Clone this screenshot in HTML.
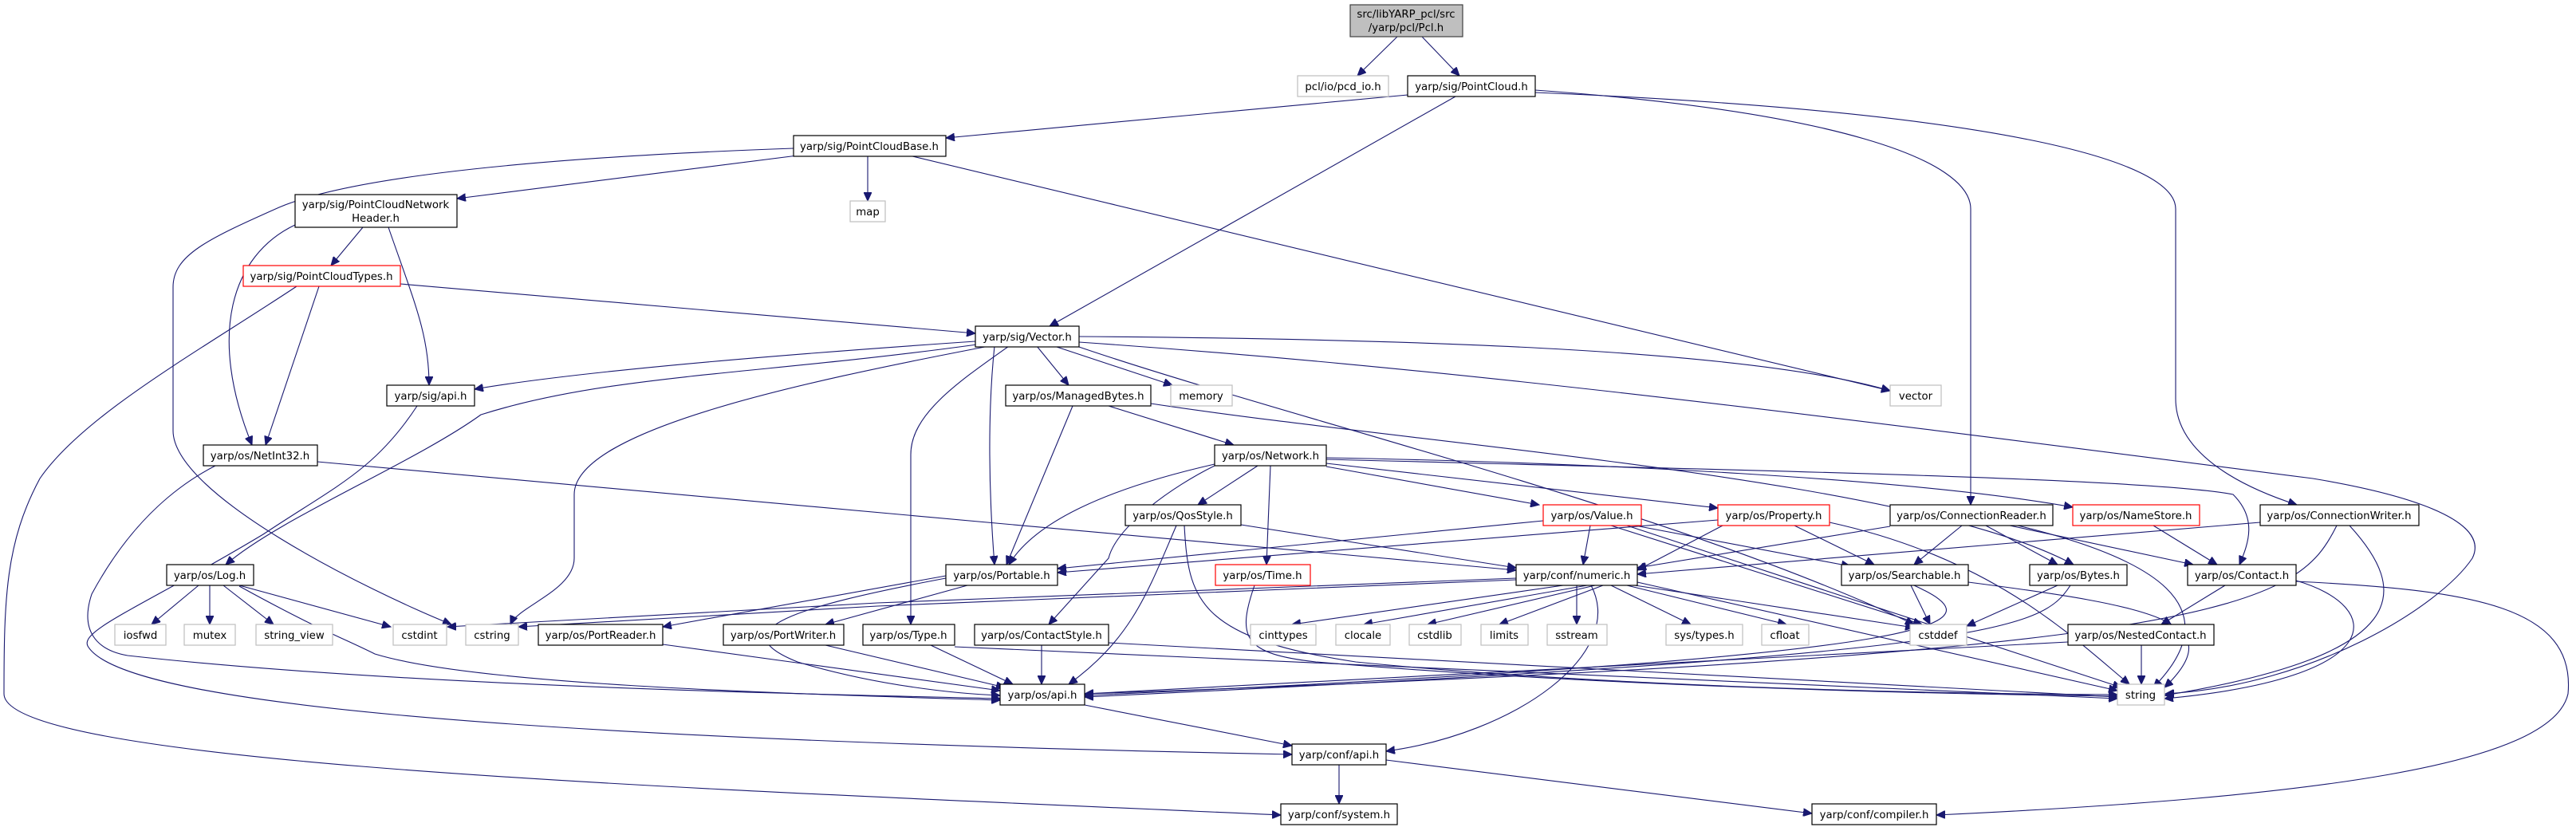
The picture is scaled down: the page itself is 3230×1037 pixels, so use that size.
<!DOCTYPE html>
<html><head><meta charset="utf-8"><style>
html,body{margin:0;padding:0;background:#fff;}
svg{display:block;}
text{font-family:"DejaVu Sans","Liberation Sans",sans-serif;font-size:13.3px;fill:#000;text-anchor:middle;}
.e{fill:none;stroke:#191970;stroke-width:1.1;marker-end:url(#a);}
.n{fill:#fff;stroke:#000;stroke-width:1.2;}
.g{fill:#fff;stroke:#bfbfbf;stroke-width:1.2;}
.r{fill:#fff;stroke:#ff0000;stroke-width:1.2;}
</style></head><body>
<svg width="3230" height="1037" viewBox="0 0 3230 1037" xmlns="http://www.w3.org/2000/svg">
<defs><marker id="a" markerWidth="12" markerHeight="10" refX="11" refY="5" orient="auto" markerUnits="userSpaceOnUse"><path d="M0,0 L11,5 L0,10 z" fill="#191970" stroke="#191970"/></marker></defs>
<g>
<path class="e" d="M1752,46 L1702,95"/>
<path class="e" d="M1783,46 L1830,95"/>
<path class="e" d="M1765,119 L1186,173"/>
<path class="e" d="M1825,121 L1316,409"/>
<path class="e" d="M1925,113 C2300,140 2471,200 2471,262 L2471,633"/>
<path class="e" d="M1925,116 C2500,140 2728,200 2728,262 L2728,500 C2728,580 2840,620 2880,633"/>
<path class="e" d="M1000,195 L573,249"/>
<path class="e" d="M1088,195 L1088,252"/>
<path class="e" d="M1140,195 L2370,490"/>
<path class="e" d="M995,186 C600,200 420,230 350,260 C260,300 217,320 217,360 L217,540 C217,620 460,740 566,783"/>
<path class="e" d="M455,285 L415,333"/>
<path class="e" d="M487,285 C520,380 538,420 538,483"/>
<path class="e" d="M370,282 C290,320 260,420 316,558"/>
<path class="e" d="M502,356 L1223,418"/>
<path class="e" d="M400,359 L333,558"/>
<path class="e" d="M372,359 C250,440 105,520 50,600 C7,680 5,750 5,870 C5,960 900,990 1606,1022"/>
<path class="e" d="M523,509 C470,590 420,610 330,670 C180,760 100,790 110,810 C150,880 600,925 1620,946"/>
<path class="e" d="M270,584 C200,620 150,680 115,745 C100,790 120,815 160,822 C500,860 1000,870 1254,876"/>
<path class="e" d="M398,579 L1901,715"/>
<path class="e" d="M1223,428 C900,450 700,470 595,488"/>
<path class="e" d="M1225,432 C950,470 760,470 603,520 C520,580 350,650 283,708"/>
<path class="e" d="M1240,434 C1000,480 720,540 720,620 L720,700 C720,740 650,760 640,783"/>
<path class="e" d="M1247,434 C1238,520 1240,620 1247,708"/>
<path class="e" d="M1265,434 C1200,480 1142,520 1142,570 L1142,783"/>
<path class="e" d="M1300,434 L1340,483"/>
<path class="e" d="M1322,434 L1470,483"/>
<path class="e" d="M1353,422 C1800,425 2200,440 2370,490"/>
<path class="e" d="M1353,429 C1800,460 2200,510 2900,600 C3050,625 3120,660 3100,700 C3060,760 2900,860 2715,870"/>
<path class="e" d="M1350,434 C1600,520 2100,640 2400,783"/>
<path class="e" d="M1345,509 L1262,708"/>
<path class="e" d="M1390,509 L1547,558"/>
<path class="e" d="M1443,506 C1800,560 2400,600 2600,708"/>
<path class="e" d="M1577,584 L1502,633"/>
<path class="e" d="M1593,584 L1588,708"/>
<path class="e" d="M1523,582 C1400,610 1300,650 1265,708"/>
<path class="e" d="M1523,584 C1470,610 1400,660 1390,700 L1315,783"/>
<path class="e" d="M1663,585 L1930,633"/>
<path class="e" d="M1663,581 L2154,637"/>
<path class="e" d="M1663,574 C2000,580 2400,600 2599,636"/>
<path class="e" d="M1663,576 C2200,590 2700,600 2800,620 C2830,650 2820,680 2808,708"/>
<path class="e" d="M1475,659 C1440,740 1420,800 1340,858"/>
<path class="e" d="M1556,658 L1901,712"/>
<path class="e" d="M1485,659 C1490,750 1500,800 1700,830 C2000,860 2400,870 2655,871"/>
<path class="e" d="M1573,734 C1550,800 1560,820 1650,830 C2000,860 2400,870 2655,873"/>
<path class="e" d="M1994,659 L1985,708"/>
<path class="e" d="M1935,653 L1326,713"/>
<path class="e" d="M2050,659 L2320,710"/>
<path class="e" d="M2020,659 L2410,783"/>
<path class="e" d="M2040,659 L2660,862"/>
<path class="e" d="M2154,652 L1326,718"/>
<path class="e" d="M2160,659 L2053,715"/>
<path class="e" d="M2250,659 L2350,708"/>
<path class="e" d="M2294,655 C2500,700 2600,800 2670,858"/>
<path class="e" d="M2370,660 L2053,712"/>
<path class="e" d="M2460,659 L2400,708"/>
<path class="e" d="M2490,659 L2580,708"/>
<path class="e" d="M2520,659 L2750,708"/>
<path class="e" d="M2530,659 C2700,700 2800,760 2700,862"/>
<path class="e" d="M2700,659 L2780,708"/>
<path class="e" d="M2930,659 C2880,760 2800,820 1360,870"/>
<path class="e" d="M2946,659 C3020,740 3030,820 2714,872"/>
<path class="e" d="M2834,655 L2053,720"/>
<path class="e" d="M2790,734 L2710,783"/>
<path class="e" d="M2879,728 C2990,760 3000,850 2714,876"/>
<path class="e" d="M2879,729 C3100,740 3230,760 3220,870 C3200,960 2900,1000 2428,1022"/>
<path class="e" d="M2685,809 L2685,858"/>
<path class="e" d="M2593,805 L1360,870"/>
<path class="e" d="M2396,734 L2420,783"/>
<path class="e" d="M2468,730 C2700,760 2800,780 2714,862"/>
<path class="e" d="M2400,734 C2500,780 2500,820 1360,872"/>
<path class="e" d="M2580,734 L2466,785"/>
<path class="e" d="M2596,734 C2560,790 2500,820 1360,874"/>
<path class="e" d="M1960,734 L1620,783"/>
<path class="e" d="M1990,734 L1710,783"/>
<path class="e" d="M2000,734 L1790,783"/>
<path class="e" d="M2010,734 L1880,783"/>
<path class="e" d="M1977,734 L1977,783"/>
<path class="e" d="M2020,734 L2120,783"/>
<path class="e" d="M2040,734 L2240,783"/>
<path class="e" d="M2050,734 L2400,787"/>
<path class="e" d="M2053,730 L2655,866"/>
<path class="e" d="M1995,734 C2040,820 1900,920 1738,942"/>
<path class="e" d="M1901,725 L1100,756 L561,786"/>
<path class="e" d="M1901,727 L1100,760 L650,786"/>
<path class="e" d="M1186,722 L831,786"/>
<path class="e" d="M1213,734 L1035,783"/>
<path class="e" d="M1186,725 C1000,760 900,790 1000,830 C1100,860 1200,870 1254,872"/>
<path class="e" d="M249,734 L190,783"/>
<path class="e" d="M263,734 L263,783"/>
<path class="e" d="M280,734 L343,783"/>
<path class="e" d="M300,734 L490,786"/>
<path class="e" d="M300,735 C400,790 430,800 470,820 C600,860 1000,870 1254,878"/>
<path class="e" d="M831,808 L1254,866"/>
<path class="e" d="M1035,809 L1260,862"/>
<path class="e" d="M1167,809 L1270,858"/>
<path class="e" d="M1197,811 L2655,876"/>
<path class="e" d="M1306,809 L1306,858"/>
<path class="e" d="M1390,806 L2655,874"/>
<path class="e" d="M1360,884 L1620,935"/>
<path class="e" d="M1679,959 L1679,1008"/>
<path class="e" d="M1738,953 L2272,1020"/>
</g>
<g>
<rect x="1693" y="6" width="141" height="40" fill="#bfbfbf" stroke="#404040" stroke-width="1.2"/>
<text x="1763" y="22">src/libYARP_pcl/src</text><text x="1763" y="39">/yarp/pcl/Pcl.h</text>
<rect class="g" x="1627" y="95" width="114" height="26"/><text x="1684" y="113">pcl/io/pcd_io.h</text>
<rect class="n" x="1765" y="95" width="160" height="26"/><text x="1845" y="113">yarp/sig/PointCloud.h</text>
<rect class="n" x="995" y="170" width="191" height="26"/><text x="1090" y="188">yarp/sig/PointCloudBase.h</text>
<rect class="g" x="1066" y="252" width="44" height="26"/><text x="1088" y="270">map</text>
<rect class="n" x="370" y="244" width="203" height="41"/><text x="471" y="261">yarp/sig/PointCloudNetwork</text><text x="471" y="278">Header.h</text>
<rect class="r" x="305" y="333" width="197" height="26"/><text x="403" y="351">yarp/sig/PointCloudTypes.h</text>
<rect class="n" x="485" y="483" width="110" height="26"/><text x="540" y="501">yarp/sig/api.h</text>
<rect class="n" x="1223" y="409" width="130" height="26"/><text x="1288" y="427">yarp/sig/Vector.h</text>
<rect class="n" x="1261" y="483" width="182" height="26"/><text x="1352" y="501">yarp/os/ManagedBytes.h</text>
<rect class="g" x="1468" y="483" width="77" height="26"/><text x="1506" y="501">memory</text>
<rect class="g" x="2370" y="483" width="64" height="26"/><text x="2402" y="501">vector</text>
<rect class="n" x="255" y="558" width="143" height="26"/><text x="326" y="576">yarp/os/NetInt32.h</text>
<rect class="n" x="209" y="708" width="109" height="26"/><text x="263" y="726">yarp/os/Log.h</text>
<rect class="g" x="144" y="783" width="64" height="26"/><text x="176" y="801">iosfwd</text>
<rect class="g" x="231" y="783" width="64" height="26"/><text x="263" y="801">mutex</text>
<rect class="g" x="321" y="783" width="96" height="26"/><text x="369" y="801">string_view</text>
<rect class="g" x="493" y="783" width="67" height="26"/><text x="526" y="801">cstdint</text>
<rect class="g" x="584" y="783" width="66" height="26"/><text x="617" y="801">cstring</text>
<rect class="n" x="675" y="783" width="156" height="26"/><text x="753" y="801">yarp/os/PortReader.h</text>
<rect class="n" x="907" y="783" width="151" height="26"/><text x="982" y="801">yarp/os/PortWriter.h</text>
<rect class="n" x="1082" y="783" width="115" height="26"/><text x="1139" y="801">yarp/os/Type.h</text>
<rect class="n" x="1222" y="783" width="168" height="26"/><text x="1306" y="801">yarp/os/ContactStyle.h</text>
<rect class="n" x="1254" y="858" width="106" height="26"/><text x="1307" y="876">yarp/os/api.h</text>
<rect class="n" x="1620" y="933" width="118" height="26"/><text x="1679" y="951">yarp/conf/api.h</text>
<rect class="n" x="1606" y="1008" width="146" height="26"/><text x="1679" y="1026">yarp/conf/system.h</text>
<rect class="n" x="1186" y="708" width="140" height="26"/><text x="1256" y="726">yarp/os/Portable.h</text>
<rect class="n" x="1523" y="558" width="140" height="26"/><text x="1593" y="576">yarp/os/Network.h</text>
<rect class="n" x="1411" y="633" width="145" height="26"/><text x="1483" y="651">yarp/os/QosStyle.h</text>
<rect class="r" x="1524" y="708" width="119" height="26"/><text x="1583" y="726">yarp/os/Time.h</text>
<rect class="r" x="1935" y="633" width="123" height="26"/><text x="1996" y="651">yarp/os/Value.h</text>
<rect class="r" x="2154" y="633" width="140" height="26"/><text x="2224" y="651">yarp/os/Property.h</text>
<rect class="n" x="1901" y="708" width="152" height="26"/><text x="1977" y="726">yarp/conf/numeric.h</text>
<rect class="g" x="1568" y="783" width="82" height="26"/><text x="1609" y="801">cinttypes</text>
<rect class="g" x="1675" y="783" width="68" height="26"/><text x="1709" y="801">clocale</text>
<rect class="g" x="1767" y="783" width="65" height="26"/><text x="1799" y="801">cstdlib</text>
<rect class="g" x="1857" y="783" width="59" height="26"/><text x="1886" y="801">limits</text>
<rect class="g" x="1940" y="783" width="75" height="26"/><text x="1977" y="801">sstream</text>
<rect class="g" x="2089" y="783" width="96" height="26"/><text x="2137" y="801">sys/types.h</text>
<rect class="g" x="2209" y="783" width="59" height="26"/><text x="2238" y="801">cfloat</text>
<rect class="g" x="2395" y="783" width="71" height="26"/><text x="2430" y="801">cstddef</text>
<rect class="g" x="2655" y="858" width="59" height="26"/><text x="2684" y="876">string</text>
<rect class="n" x="2309" y="708" width="159" height="26"/><text x="2388" y="726">yarp/os/Searchable.h</text>
<rect class="n" x="2545" y="708" width="122" height="26"/><text x="2606" y="726">yarp/os/Bytes.h</text>
<rect class="n" x="2743" y="708" width="136" height="26"/><text x="2811" y="726">yarp/os/Contact.h</text>
<rect class="n" x="2593" y="783" width="183" height="26"/><text x="2684" y="801">yarp/os/NestedContact.h</text>
<rect class="n" x="2370" y="633" width="204" height="26"/><text x="2472" y="651">yarp/os/ConnectionReader.h</text>
<rect class="r" x="2599" y="633" width="159" height="26"/><text x="2678" y="651">yarp/os/NameStore.h</text>
<rect class="n" x="2834" y="633" width="199" height="26"/><text x="2933" y="651">yarp/os/ConnectionWriter.h</text>
<rect class="n" x="2272" y="1008" width="156" height="26"/><text x="2350" y="1026">yarp/conf/compiler.h</text>
</g>
</svg>
</body></html>
